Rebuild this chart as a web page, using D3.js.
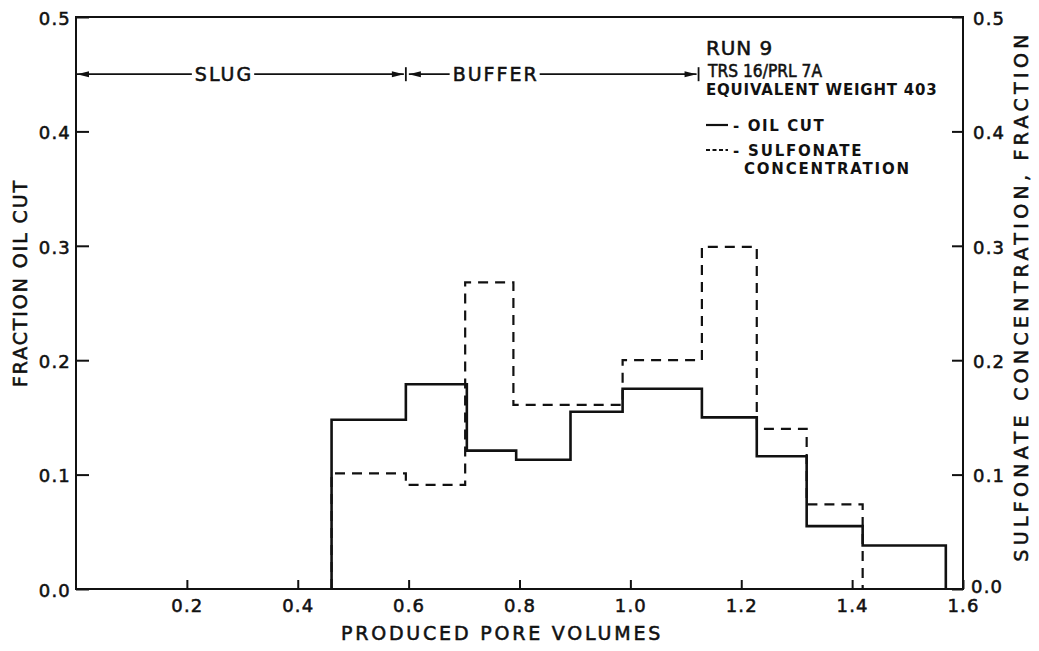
<!DOCTYPE html>
<html><head><meta charset="utf-8">
<script src="https://cdn.jsdelivr.net/npm/d3@7"></script>
<style>
body{margin:0;background:#fff;}
svg text{font-family:"DejaVu Sans",sans-serif;fill:#111;}
.hv{stroke:#111;stroke-width:0.55px;}
</style></head>
<body><svg id="chart" width="1039" height="651"></svg>
<script>
// ---- data ----
const xTicks = [0.2, 0.4, 0.6, 0.8, 1.0, 1.2, 1.4, 1.6];
const xTickLabels = ["0.2", "0.4", "0.6", "0.8", "1.0", "1.2", "1.4", "1.6"];
const yTicks = [0.0, 0.1, 0.2, 0.3, 0.4, 0.5];
const yTickLabels = ["0.0", "0.1", "0.2", "0.3", "0.4", "0.5"];
// oil cut: bin edges (pore volumes) and step values
const oilEdges = [0.461, 0.595, 0.705, 0.794, 0.892, 0.986, 1.129, 1.228, 1.318, 1.419, 1.569];
const oilCut   = [0.148, 0.179, 0.121, 0.113, 0.155, 0.175, 0.150, 0.116, 0.055, 0.038];
// sulfonate concentration: bin edges and step values
const sulfEdges = [0.461, 0.595, 0.702, 0.789, 0.986, 1.129, 1.228, 1.318, 1.419];
const sulfConc  = [0.101, 0.091, 0.268, 0.161, 0.200, 0.299, 0.140, 0.074];
// slug / buffer bracket annotations
const phaseNames  = ["SLUG", "BUFFER"];
const phaseStart  = [0.0, 0.595];
const phaseEnd    = [0.595, 1.123];
const phaseLabelX = [0.267, 0.757];
const phaseY = 0.45;
const legendTitle = ["RUN 9", "TRS 16/PRL 7A", "EQUIVALENT WEIGHT 403"];
const legendItems = ["- OIL CUT", "- SULFONATE", "CONCENTRATION"];

// ---- layout ----
const svg = d3.select("#chart");
const L = 76, R = 963, T = 17, B = 589;
const x = d3.scaleLinear().domain([0, 1.6]).range([L, R]);
const y = d3.scaleLinear().domain([0, 0.5]).range([B, T]);
const ink = "#111";

// frame
svg.append("rect").attr("x", L).attr("y", T).attr("width", R - L).attr("height", B - T)
  .attr("fill", "none").attr("stroke", ink).attr("stroke-width", 2);

// bottom axis (ticks inward)
const gx = svg.append("g").attr("transform", `translate(0,${B})`)
  .call(d3.axisBottom(x).tickValues(xTicks).tickSizeInner(-9).tickSizeOuter(0)
    .tickFormat((d, i) => xTickLabels[i]));
gx.select(".domain").remove();
gx.selectAll("line").attr("stroke", ink).attr("stroke-width", 2);
gx.selectAll("text").attr("class", "hv").attr("font-size", 18).attr("letter-spacing", 1.2)
  .attr("y", 0).attr("dy", 0).attr("transform", "translate(0,23)");

// left axis
const gl = svg.append("g").attr("transform", `translate(${L},0)`)
  .call(d3.axisLeft(y).tickValues(yTicks).tickSizeInner(-13).tickSizeOuter(0)
    .tickFormat((d, i) => yTickLabels[i]));
gl.select(".domain").remove();
gl.selectAll("line").attr("stroke", ink).attr("stroke-width", 2);
gl.selectAll("text").attr("class", "hv").attr("font-size", 18).attr("letter-spacing", 1.2).attr("x", -5)
  .attr("dy", "0.4em");

// right axis
const gr = svg.append("g").attr("transform", `translate(${R},0)`)
  .call(d3.axisRight(y).tickValues(yTicks).tickSizeInner(-11).tickSizeOuter(0)
    .tickFormat((d, i) => yTickLabels[i]));
gr.select(".domain").remove();
gr.selectAll("line").attr("stroke", ink).attr("stroke-width", 2);
gr.selectAll("text").attr("class", "hv").attr("font-size", 18).attr("letter-spacing", 1.2).attr("x", 10)
  .attr("dy", "0.4em");
gr.selectAll(".tick").filter(d => d === 0).select("text").attr("x", 8).attr("dy", "0.2em");

// axis titles
svg.append("text").attr("class", "hv").attr("x", 502).attr("y", 640).attr("text-anchor", "middle")
  .attr("font-size", 19).attr("letter-spacing", 2.8).text("PRODUCED PORE VOLUMES");
svg.append("text").attr("class", "hv").attr("transform", "translate(27,283) rotate(-90)").attr("text-anchor", "middle")
  .attr("font-size", 19).attr("letter-spacing", 1.9).text("FRACTION OIL CUT");
svg.append("text").attr("class", "hv").attr("transform", "translate(1028,296) rotate(-90)").attr("text-anchor", "middle")
  .attr("font-size", 19).attr("letter-spacing", 4.3).text("SULFONATE CONCENTRATION, FRACTION");

// step series
function stepPoints(edges, vals) {
  const pts = [[edges[0], 0]];
  vals.forEach((v, i) => { pts.push([edges[i], v]); pts.push([edges[i + 1], v]); });
  pts.push([edges[edges.length - 1], 0]);
  return pts;
}
const line = d3.line().x(d => x(d[0])).y(d => y(d[1]));
svg.append("path").attr("d", line(stepPoints(sulfEdges, sulfConc)))
  .attr("fill", "none").attr("stroke", ink).attr("stroke-width", 2.2).attr("stroke-dasharray", "10,7");
svg.append("path").attr("d", line(stepPoints(oilEdges, oilCut)))
  .attr("fill", "none").attr("stroke", ink).attr("stroke-width", 2.6);

// phase brackets
const yA = y(phaseY);
function arrowHead(xTip, dir) {
  svg.append("path")
    .attr("d", `M${xTip},${yA} L${xTip - dir * 12},${yA - 3} L${xTip - dir * 12},${yA + 3} Z`)
    .attr("fill", ink);
}
phaseNames.forEach((name, i) => {
  const x0 = x(phaseStart[i]) + (i === 0 ? 1 : 3);
  const x1 = x(phaseEnd[i]) - 2;
  const tx = x(phaseLabelX[i]);
  const t = svg.append("text").attr("class", "hv").attr("x", tx).attr("y", yA + 7).attr("text-anchor", "middle")
    .attr("font-size", 19).attr("letter-spacing", 2).text(name);
  const w = t.node().getComputedTextLength();
  svg.append("line").attr("x1", x0).attr("x2", tx - w / 2 - 3).attr("y1", yA).attr("y2", yA)
    .attr("stroke", ink).attr("stroke-width", 1.8);
  svg.append("line").attr("x1", tx + w / 2 + 1).attr("x2", x1).attr("y1", yA).attr("y2", yA)
    .attr("stroke", ink).attr("stroke-width", 1.8);
  arrowHead(x0, -1);
  arrowHead(x1, 1);
  svg.append("line").attr("x1", x(phaseEnd[i])).attr("x2", x(phaseEnd[i]))
    .attr("y1", yA - 7).attr("y2", yA + 7).attr("stroke", ink).attr("stroke-width", 1.8);
});

// legend / run info
const lx = 706;
svg.append("text").attr("class", "hv").attr("x", lx).attr("y", 55).attr("font-size", 20)
  .attr("letter-spacing", 0.9).text(legendTitle[0]);
svg.append("text").attr("class", "hv").attr("x", lx + 2).attr("y", 77).attr("font-size", 17)
  .attr("textLength", 114).attr("lengthAdjust", "spacingAndGlyphs").text(legendTitle[1]);
svg.append("text").attr("x", lx).attr("y", 95).attr("font-size", 15).attr("font-weight", "bold")
  .attr("letter-spacing", 0.8).text(legendTitle[2]);
svg.append("line").attr("x1", lx).attr("x2", lx + 22).attr("y1", 125).attr("y2", 125)
  .attr("stroke", ink).attr("stroke-width", 2.2);
svg.append("text").attr("x", lx + 27).attr("y", 131).attr("font-size", 15).attr("font-weight", "bold")
  .attr("letter-spacing", 1.6).text(legendItems[0]);
svg.append("line").attr("x1", lx).attr("x2", lx + 22).attr("y1", 150).attr("y2", 150)
  .attr("stroke", ink).attr("stroke-width", 2.2).attr("stroke-dasharray", "4,2.5");
svg.append("text").attr("x", lx + 27).attr("y", 156).attr("font-size", 15).attr("font-weight", "bold")
  .attr("letter-spacing", 1.8).text(legendItems[1]);
svg.append("text").attr("x", lx + 38).attr("y", 174).attr("font-size", 15).attr("font-weight", "bold")
  .attr("letter-spacing", 1.8).text(legendItems[2]);
</script></body></html>
